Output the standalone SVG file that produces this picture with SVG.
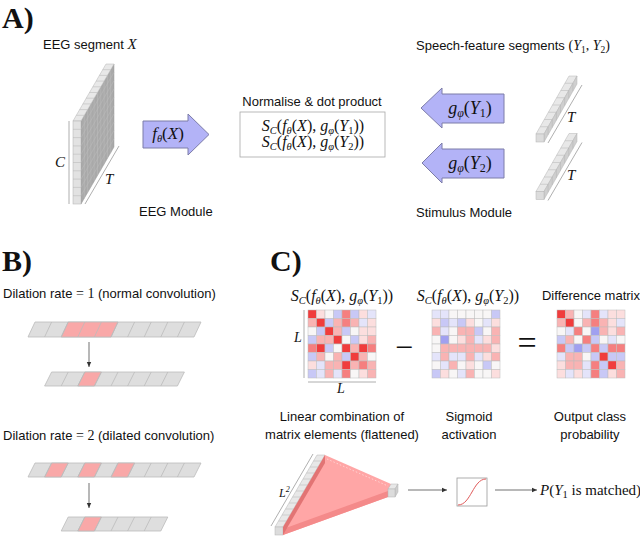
<svg xmlns="http://www.w3.org/2000/svg" width="640" height="536" viewBox="0 0 640 536">
<style>
text{font-family:"Liberation Sans",Arial,sans-serif;font-size:13px;fill:#111}
.h{font-family:"Liberation Serif",serif;font-weight:bold;font-size:30px}
.m{font-family:"Liberation Serif",serif;font-size:14px}
.mm{font-size:16px}
.i{font-style:italic}
.s{font-size:10.5px}
.arr{fill:#b3b3f7;stroke:#7c7ca8;stroke-width:1}
.cg{fill:#dedede;stroke:#bbbbbb;stroke-width:0.8}
.red{fill:#f9a8a8;stroke:#bbbbbb;stroke-width:0.8}
.sep{stroke:#bbbbbb;stroke-width:0.8;fill:none}
.mx rect{width:8.5px;height:8.5px;stroke:#bdbdbd;stroke-width:0.5}
.r3{fill:#f03c3c}.r2{fill:#f57f7f}.r1{fill:#f9b3b3}.r0{fill:#fcdede}
.w{fill:#f8f6f6}.b0{fill:#e4e4fa}.b1{fill:#c8c8f6}.b2{fill:#a0a0f0}
.con{stroke:#333;stroke-width:0.7;fill:none}
.dim{stroke:#9a9a9a;stroke-width:0.8;fill:none}
.bt{fill:#e8e8e8;stroke:#b4b4b4;stroke-width:0.5}
.bs{fill:#cfcfcf;stroke:#b4b4b4;stroke-width:0.5}
.bl{stroke:#b4b4b4;stroke-width:0.5;fill:none}
</style>
<defs>
<marker id="ah" markerWidth="6" markerHeight="6" refX="5" refY="3" orient="auto" markerUnits="userSpaceOnUse">
<path d="M0,0.8 L5,3 L0,5.2 Z" fill="#333"/>
</marker>
<g id="sbar">
<polygon class="bt" points="536,134 544,134 577,76 569,76"/>
<polygon class="bs" points="544,134 577,76 577,84 544,142"/>
<rect class="bt" x="536" y="134" width="8" height="8" style="fill:#dcdcdc"/>
<path class="bl" d="M540.1,126.75h8M544.25,119.5h8M548.4,112.25h8M552.5,105h8M556.6,97.75h8M560.75,90.5h8M564.9,83.25h8M548.1,126.75v8M552.25,119.5v8M556.4,112.25v8M560.5,105v8M564.6,97.75v8M568.75,90.5v8M572.9,83.25v8"/>
<line class="dim" x1="548" y1="143" x2="582" y2="85"/>
<text class="m i" x="567" y="122" style="font-size:15px">T</text>
</g>
</defs>

<!-- Panel labels -->
<text class="h" x="2" y="28">A)</text>
<text class="h" x="2" y="271">B)</text>
<text class="h" x="270" y="271">C)</text>

<!-- Panel A -->
<g id="eeg-segment">
<text x="43" y="49">EEG segment <tspan class="m i" style="font-size:15px">X</tspan></text>
<polygon points="81,121 114,64 114,147 81,204" fill="#a9a9a9" stroke="#999" stroke-width="0.5"/>
<path stroke="#bdbdbd" stroke-width="0.5" fill="none" d="M84.3,115.3V198.3M87.6,109.6V192.6M90.9,103.9V186.9M94.2,98.2V181.2M97.5,92.5V175.5M100.8,86.8V169.8M104.1,81.1V164.1M107.4,75.4V158.4M110.7,69.7V152.7M81,129.3L114,72.3M81,137.6L114,80.6M81,145.9L114,88.9M81,154.2L114,97.2M81,162.5L114,105.5M81,170.8L114,113.8M81,179.1L114,122.1M81,187.4L114,130.4M81,195.7L114,138.7"/>
<polygon class="bt" points="73,121 81,121 114,64 106,64"/>
<path class="bl" d="M76.3,115.3h8M79.6,109.6h8M82.9,103.9h8M86.2,98.2h8M89.5,92.5h8M92.8,86.8h8M96.1,81.1h8M99.4,75.4h8M102.7,69.7h8"/>
<rect x="73" y="121" width="8" height="83" fill="#e2e2e2" stroke="#b0b0b0" stroke-width="0.5"/>
<path class="bl" d="M73,129.3h8M73,137.6h8M73,145.9h8M73,154.2h8M73,162.5h8M73,170.8h8M73,179.1h8M73,187.4h8M73,195.7h8"/>
<line class="dim" x1="69" y1="121" x2="69" y2="204"/>
<text class="m i" x="55" y="167" style="font-size:15px">C</text>
<line class="dim" x1="85" y1="204" x2="119" y2="146"/>
<text class="m i" x="105" y="184" style="font-size:15px">T</text>
<text x="139" y="216">EEG Module</text>
</g>

<g id="f-arrow">
<polygon class="arr" points="143,121 188,121 188,114 209,134.5 188,155 188,148 143,148"/>
<text class="m" x="168" y="139" text-anchor="middle" style="font-size:17px"><tspan class="i">f</tspan><tspan class="s i" dy="3">θ</tspan><tspan dy="-3">(</tspan><tspan class="i">X</tspan>)</text>
</g>

<g id="normalise-box">
<text x="312" y="106" text-anchor="middle">Normalise &amp; dot product</text>
<rect x="240" y="112" width="145" height="45" fill="#fff" stroke="#a8a8a8" stroke-width="0.8"/>
<text class="m mm" x="313" y="131" text-anchor="middle"><tspan class="i">S</tspan><tspan class="s i" dy="3">C</tspan><tspan dy="-3">(</tspan><tspan class="i">f</tspan><tspan class="s i" dy="3">θ</tspan><tspan dy="-3">(</tspan><tspan class="i">X</tspan>), <tspan class="i">g</tspan><tspan class="s i" dy="3">φ</tspan><tspan dy="-3">(</tspan><tspan class="i">Y</tspan><tspan class="s" dy="3">1</tspan><tspan dy="-3">))</tspan></text>
<text class="m mm" x="313" y="147" text-anchor="middle"><tspan class="i">S</tspan><tspan class="s i" dy="3">C</tspan><tspan dy="-3">(</tspan><tspan class="i">f</tspan><tspan class="s i" dy="3">θ</tspan><tspan dy="-3">(</tspan><tspan class="i">X</tspan>), <tspan class="i">g</tspan><tspan class="s i" dy="3">φ</tspan><tspan dy="-3">(</tspan><tspan class="i">Y</tspan><tspan class="s" dy="3">2</tspan><tspan dy="-3">))</tspan></text>
</g>

<g id="g1-arrow">
<polygon class="arr" points="504,94 442,94 442,88 421,108 442,128 442,123 504,123"/>
<text class="m" x="470" y="114" text-anchor="middle" style="font-size:18px"><tspan class="i">g</tspan><tspan class="s i" dy="3" style="font-size:12px">φ</tspan><tspan dy="-3">(</tspan><tspan class="i">Y</tspan><tspan class="s" dy="3" style="font-size:12px">1</tspan><tspan dy="-3">)</tspan></text>
</g>
<g id="g2-arrow">
<polygon class="arr" points="504,149 442,149 442,143 422,163 442,183 442,178 504,178"/>
<text class="m" x="470" y="169" text-anchor="middle" style="font-size:18px"><tspan class="i">g</tspan><tspan class="s i" dy="3" style="font-size:12px">φ</tspan><tspan dy="-3">(</tspan><tspan class="i">Y</tspan><tspan class="s" dy="3" style="font-size:12px">2</tspan><tspan dy="-3">)</tspan></text>
</g>

<g id="speech-segments">
<text x="416" y="50">Speech-feature segments <tspan class="m">(<tspan class="i">Y</tspan><tspan class="s" dy="3" style="font-size:9.5px">1</tspan><tspan dy="-3">, </tspan><tspan class="i">Y</tspan><tspan class="s" dy="3" style="font-size:9.5px">2</tspan><tspan dy="-3">)</tspan></tspan></text>
<text x="416" y="217">Stimulus Module</text>
</g>
<g id="speech-y1"><use href="#sbar"/></g>
<g id="speech-y2"><use href="#sbar" transform="translate(0,57.5)"/></g>

<!-- Panel B -->
<g id="dilation-1">
<text x="3" y="298">Dilation rate <tspan class="m" style="font-size:14px">= 1</tspan> (normal convolution)</text>
<polygon class="cg" points="35,322 201,322 194,337 28,337"/>
<polygon class="red" points="68.2,322 118,322 111,337 61.2,337"/>
<path class="sep" d="M51.6,322L44.6,337M68.2,322L61.2,337M84.8,322L77.8,337M101.4,322L94.4,337M118,322L111,337M134.6,322L127.6,337M151.2,322L144.2,337M167.8,322L160.8,337M184.4,322L177.4,337"/>
<polygon class="cg" points="51.6,372 184.4,372 177.4,386 44.6,386"/>
<polygon class="red" points="84.8,372 101.4,372 94.4,386 77.8,386"/>
<path class="sep" d="M68.2,372L61.2,386M84.8,372L77.8,386M101.4,372L94.4,386M118,372L111,386M134.6,372L127.6,386M151.2,372L144.2,386M167.8,372L160.8,386"/>
</g>
<g id="dilation-2">
<text x="3" y="440">Dilation rate <tspan class="m" style="font-size:14px">= 2</tspan> (dilated convolution)</text>
<polygon class="cg" points="35,463 201,463 194,477 28,477"/>
<polygon class="red" points="51.6,463 68.2,463 61.2,477 44.6,477"/>
<polygon class="red" points="84.8,463 101.4,463 94.4,477 77.8,477"/>
<polygon class="red" points="118,463 134.6,463 127.6,477 111,477"/>
<path class="sep" d="M51.6,463L44.6,477M68.2,463L61.2,477M84.8,463L77.8,477M101.4,463L94.4,477M118,463L111,477M134.6,463L127.6,477M151.2,463L144.2,477M167.8,463L160.8,477M184.4,463L177.4,477"/>
<polygon class="cg" points="68.2,517 167.8,517 160.8,531 61.2,531"/>
<polygon class="red" points="84.8,517 101.4,517 94.4,531 77.8,531"/>
<path class="sep" d="M84.8,517L77.8,531M101.4,517L94.4,531M118,517L111,531M134.6,517L127.6,531M151.2,517L144.2,531"/>
</g>

<!-- Panel C -->
<g id="matrix-1">
<text class="m mm" x="342" y="301" text-anchor="middle"><tspan class="i">S</tspan><tspan class="s i" dy="3">C</tspan><tspan dy="-3">(</tspan><tspan class="i">f</tspan><tspan class="s i" dy="3">θ</tspan><tspan dy="-3">(</tspan><tspan class="i">X</tspan>), <tspan class="i">g</tspan><tspan class="s i" dy="3">φ</tspan><tspan dy="-3">(</tspan><tspan class="i">Y</tspan><tspan class="s" dy="3">1</tspan><tspan dy="-3">))</tspan></text>
<g class="mx" transform="translate(308,310)">
<rect class="r3" x="0" y="0"/><rect class="r0" x="8.5" y="0"/><rect class="w" x="17" y="0"/><rect class="b1" x="25.5" y="0"/><rect class="r2" x="34" y="0"/><rect class="b1" x="42.5" y="0"/><rect class="r0" x="51" y="0"/><rect class="b0" x="59.5" y="0"/>
<rect class="r1" x="0" y="8.5"/><rect class="r3" x="8.5" y="8.5"/><rect class="b1" x="17" y="8.5"/><rect class="r1" x="25.5" y="8.5"/><rect class="r2" x="34" y="8.5"/><rect class="r1" x="42.5" y="8.5"/><rect class="b0" x="51" y="8.5"/><rect class="r0" x="59.5" y="8.5"/>
<rect class="w" x="0" y="17"/><rect class="b1" x="8.5" y="17"/><rect class="r3" x="17" y="17"/><rect class="r1" x="25.5" y="17"/><rect class="b1" x="34" y="17"/><rect class="w" x="42.5" y="17"/><rect class="r0" x="51" y="17"/><rect class="r0" x="59.5" y="17"/>
<rect class="b1" x="0" y="25.5"/><rect class="r1" x="8.5" y="25.5"/><rect class="r1" x="17" y="25.5"/><rect class="r3" x="25.5" y="25.5"/><rect class="w" x="34" y="25.5"/><rect class="b1" x="42.5" y="25.5"/><rect class="r0" x="51" y="25.5"/><rect class="r1" x="59.5" y="25.5"/>
<rect class="r2" x="0" y="34"/><rect class="r3" x="8.5" y="34"/><rect class="b1" x="17" y="34"/><rect class="w" x="25.5" y="34"/><rect class="r3" x="34" y="34"/><rect class="r1" x="42.5" y="34"/><rect class="r3" x="51" y="34"/><rect class="r2" x="59.5" y="34"/>
<rect class="b1" x="0" y="42.5"/><rect class="r1" x="8.5" y="42.5"/><rect class="w" x="17" y="42.5"/><rect class="r1" x="25.5" y="42.5"/><rect class="b1" x="34" y="42.5"/><rect class="r3" x="42.5" y="42.5"/><rect class="r1" x="51" y="42.5"/><rect class="w" x="59.5" y="42.5"/>
<rect class="r0" x="0" y="51"/><rect class="b0" x="8.5" y="51"/><rect class="r1" x="17" y="51"/><rect class="r1" x="25.5" y="51"/><rect class="r3" x="34" y="51"/><rect class="r1" x="42.5" y="51"/><rect class="r2" x="51" y="51"/><rect class="r1" x="59.5" y="51"/>
<rect class="b1" x="0" y="59.5"/><rect class="b0" x="8.5" y="59.5"/><rect class="r1" x="17" y="59.5"/><rect class="b0" x="25.5" y="59.5"/><rect class="r2" x="34" y="59.5"/><rect class="w" x="42.5" y="59.5"/><rect class="r0" x="51" y="59.5"/><rect class="r1" x="59.5" y="59.5"/>
</g>
<line class="dim" x1="304" y1="310" x2="304" y2="378"/>
<text class="m i" x="294" y="342">L</text>
<line class="dim" x1="308" y1="382" x2="376" y2="382"/>
<text class="m i" x="337" y="393">L</text>
</g>

<g id="minus"><text class="m" x="404" y="358" text-anchor="middle" style="font-size:32px">−</text></g>

<g id="matrix-2">
<text class="m mm" x="468" y="301" text-anchor="middle"><tspan class="i">S</tspan><tspan class="s i" dy="3">C</tspan><tspan dy="-3">(</tspan><tspan class="i">f</tspan><tspan class="s i" dy="3">θ</tspan><tspan dy="-3">(</tspan><tspan class="i">X</tspan>), <tspan class="i">g</tspan><tspan class="s i" dy="3">φ</tspan><tspan dy="-3">(</tspan><tspan class="i">Y</tspan><tspan class="s" dy="3">2</tspan><tspan dy="-3">))</tspan></text>
<g class="mx" transform="translate(432,310)">
<rect class="b0" x="0" y="0"/><rect class="b0" x="8.5" y="0"/><rect class="w" x="17" y="0"/><rect class="w" x="25.5" y="0"/><rect class="w" x="34" y="0"/><rect class="w" x="42.5" y="0"/><rect class="w" x="51" y="0"/><rect class="b1" x="59.5" y="0"/>
<rect class="r0" x="0" y="8.5"/><rect class="b1" x="8.5" y="8.5"/><rect class="b0" x="17" y="8.5"/><rect class="b1" x="25.5" y="8.5"/><rect class="r0" x="34" y="8.5"/><rect class="w" x="42.5" y="8.5"/><rect class="b0" x="51" y="8.5"/><rect class="r0" x="59.5" y="8.5"/>
<rect class="r1" x="0" y="17"/><rect class="b0" x="8.5" y="17"/><rect class="w" x="17" y="17"/><rect class="r1" x="25.5" y="17"/><rect class="r1" x="34" y="17"/><rect class="b1" x="42.5" y="17"/><rect class="w" x="51" y="17"/><rect class="r1" x="59.5" y="17"/>
<rect class="w" x="0" y="25.5"/><rect class="b2" x="8.5" y="25.5"/><rect class="w" x="17" y="25.5"/><rect class="r0" x="25.5" y="25.5"/><rect class="r1" x="34" y="25.5"/><rect class="b0" x="42.5" y="25.5"/><rect class="r0" x="51" y="25.5"/><rect class="r1" x="59.5" y="25.5"/>
<rect class="w" x="0" y="34"/><rect class="r1" x="8.5" y="34"/><rect class="r1" x="17" y="34"/><rect class="r1" x="25.5" y="34"/><rect class="r1" x="34" y="34"/><rect class="r1" x="42.5" y="34"/><rect class="r1" x="51" y="34"/><rect class="r0" x="59.5" y="34"/>
<rect class="b0" x="0" y="42.5"/><rect class="r1" x="8.5" y="42.5"/><rect class="b0" x="17" y="42.5"/><rect class="b0" x="25.5" y="42.5"/><rect class="r1" x="34" y="42.5"/><rect class="b0" x="42.5" y="42.5"/><rect class="r0" x="51" y="42.5"/><rect class="r1" x="59.5" y="42.5"/>
<rect class="w" x="0" y="51"/><rect class="b0" x="8.5" y="51"/><rect class="r1" x="17" y="51"/><rect class="w" x="25.5" y="51"/><rect class="r0" x="34" y="51"/><rect class="w" x="42.5" y="51"/><rect class="b1" x="51" y="51"/><rect class="w" x="59.5" y="51"/>
<rect class="b1" x="0" y="59.5"/><rect class="r0" x="8.5" y="59.5"/><rect class="w" x="17" y="59.5"/><rect class="b0" x="25.5" y="59.5"/><rect class="r1" x="34" y="59.5"/><rect class="w" x="42.5" y="59.5"/><rect class="w" x="51" y="59.5"/><rect class="r0" x="59.5" y="59.5"/>
</g>
</g>

<g id="equals"><text class="m" x="527" y="354" text-anchor="middle" style="font-size:34px">=</text></g>

<g id="matrix-3">
<text x="591" y="300" text-anchor="middle">Difference matrix</text>
<g class="mx" transform="translate(557,310)">
<rect class="r3" x="0" y="0"/><rect class="r1" x="8.5" y="0"/><rect class="w" x="17" y="0"/><rect class="b0" x="25.5" y="0"/><rect class="r2" x="34" y="0"/><rect class="b0" x="42.5" y="0"/><rect class="r0" x="51" y="0"/><rect class="r0" x="59.5" y="0"/>
<rect class="r1" x="0" y="8.5"/><rect class="r3" x="8.5" y="8.5"/><rect class="w" x="17" y="8.5"/><rect class="r1" x="25.5" y="8.5"/><rect class="r2" x="34" y="8.5"/><rect class="r1" x="42.5" y="8.5"/><rect class="r0" x="51" y="8.5"/><rect class="b0" x="59.5" y="8.5"/>
<rect class="w" x="0" y="17"/><rect class="b0" x="8.5" y="17"/><rect class="r2" x="17" y="17"/><rect class="w" x="25.5" y="17"/><rect class="b2" x="34" y="17"/><rect class="r1" x="42.5" y="17"/><rect class="r0" x="51" y="17"/><rect class="r1" x="59.5" y="17"/>
<rect class="b1" x="0" y="25.5"/><rect class="r1" x="8.5" y="25.5"/><rect class="w" x="17" y="25.5"/><rect class="r2" x="25.5" y="25.5"/><rect class="b1" x="34" y="25.5"/><rect class="w" x="42.5" y="25.5"/><rect class="b0" x="51" y="25.5"/><rect class="w" x="59.5" y="25.5"/>
<rect class="r2" x="0" y="34"/><rect class="b1" x="8.5" y="34"/><rect class="b2" x="17" y="34"/><rect class="b1" x="25.5" y="34"/><rect class="r2" x="34" y="34"/><rect class="b1" x="42.5" y="34"/><rect class="r2" x="51" y="34"/><rect class="r2" x="59.5" y="34"/>
<rect class="b0" x="0" y="42.5"/><rect class="r1" x="8.5" y="42.5"/><rect class="r1" x="17" y="42.5"/><rect class="w" x="25.5" y="42.5"/><rect class="b1" x="34" y="42.5"/><rect class="r3" x="42.5" y="42.5"/><rect class="b1" x="51" y="42.5"/><rect class="b1" x="59.5" y="42.5"/>
<rect class="r0" x="0" y="51"/><rect class="r1" x="8.5" y="51"/><rect class="r1" x="17" y="51"/><rect class="b0" x="25.5" y="51"/><rect class="r2" x="34" y="51"/><rect class="b1" x="42.5" y="51"/><rect class="r3" x="51" y="51"/><rect class="r1" x="59.5" y="51"/>
<rect class="r0" x="0" y="59.5"/><rect class="b0" x="8.5" y="59.5"/><rect class="r0" x="17" y="59.5"/><rect class="b0" x="25.5" y="59.5"/><rect class="r2" x="34" y="59.5"/><rect class="b1" x="42.5" y="59.5"/><rect class="r0" x="51" y="59.5"/><rect class="r1" x="59.5" y="59.5"/>
</g>
</g>

<g id="linear-combination">
<text x="342" y="421" text-anchor="middle">Linear combination of</text>
<text x="342" y="439" text-anchor="middle">matrix elements (flattened)</text>
<line class="dim" x1="271" y1="526" x2="313" y2="454"/>
<text class="m i" x="279" y="497" style="font-size:12px">L<tspan class="s" dy="-5" style="font-size:8px">2</tspan></text>
<polygon class="bt" points="275,527 283,527 325,455 317,455"/>
<path class="bl" d="M278.5,521h8M282,515h8M285.5,509h8M289,503h8M292.5,497h8M296,491h8M299.5,485h8M303,479h8M306.5,473h8M310,467h8M313.5,461h8"/>
<rect class="bt" x="275" y="527" width="8" height="8" style="fill:#dcdcdc"/>
<polygon points="325,455 391,484 388,497 283,535" fill="#ffa6a6"/>
<polygon points="283,529 388,491 388,497 283,535" fill="#f48a8a"/>
<polygon points="283,527 325,455 325,463 283,535" fill="#e27474"/>
<line x1="327" y1="459" x2="388" y2="486" stroke="#fff" stroke-width="0.6" stroke-dasharray="1.5 2" opacity="0.8"/>
<polygon class="bt" points="388,489 395,489 398,484 391,484"/>
<polygon class="bs" points="395,489 398,484 398,492 395,497"/>
<rect class="bt" x="388" y="489" width="7" height="8" style="fill:#dcdcdc"/>
</g>

<g id="sigmoid">
<text x="469" y="421" text-anchor="middle">Sigmoid</text>
<text x="469" y="439" text-anchor="middle">activation</text>
<rect x="457" y="478" width="30" height="28" fill="#fff" stroke="#9a9a9a" stroke-width="0.8"/>
<path d="M458,505 C471,505 473,479 486,479" fill="none" stroke="#e05a5a" stroke-width="1"/>
</g>

<g id="output">
<text x="590" y="421" text-anchor="middle">Output class</text>
<text x="590" y="439" text-anchor="middle">probability</text>
<text class="m" x="540" y="495" style="font-size:15px"><tspan class="i">P</tspan>(<tspan class="i">Y</tspan><tspan class="s" dy="3">1</tspan><tspan dy="-3"> is matched)</tspan></text>
</g>

<g id="connectors">
<line class="con" x1="89" y1="342" x2="89" y2="367" marker-end="url(#ah)"/>
<line class="con" x1="89" y1="483" x2="89" y2="508" marker-end="url(#ah)"/>
<line class="con" x1="408" y1="490" x2="447" y2="490" marker-end="url(#ah)"/>
<line class="con" x1="495" y1="490" x2="537" y2="490" marker-end="url(#ah)"/>
</g>
</svg>
